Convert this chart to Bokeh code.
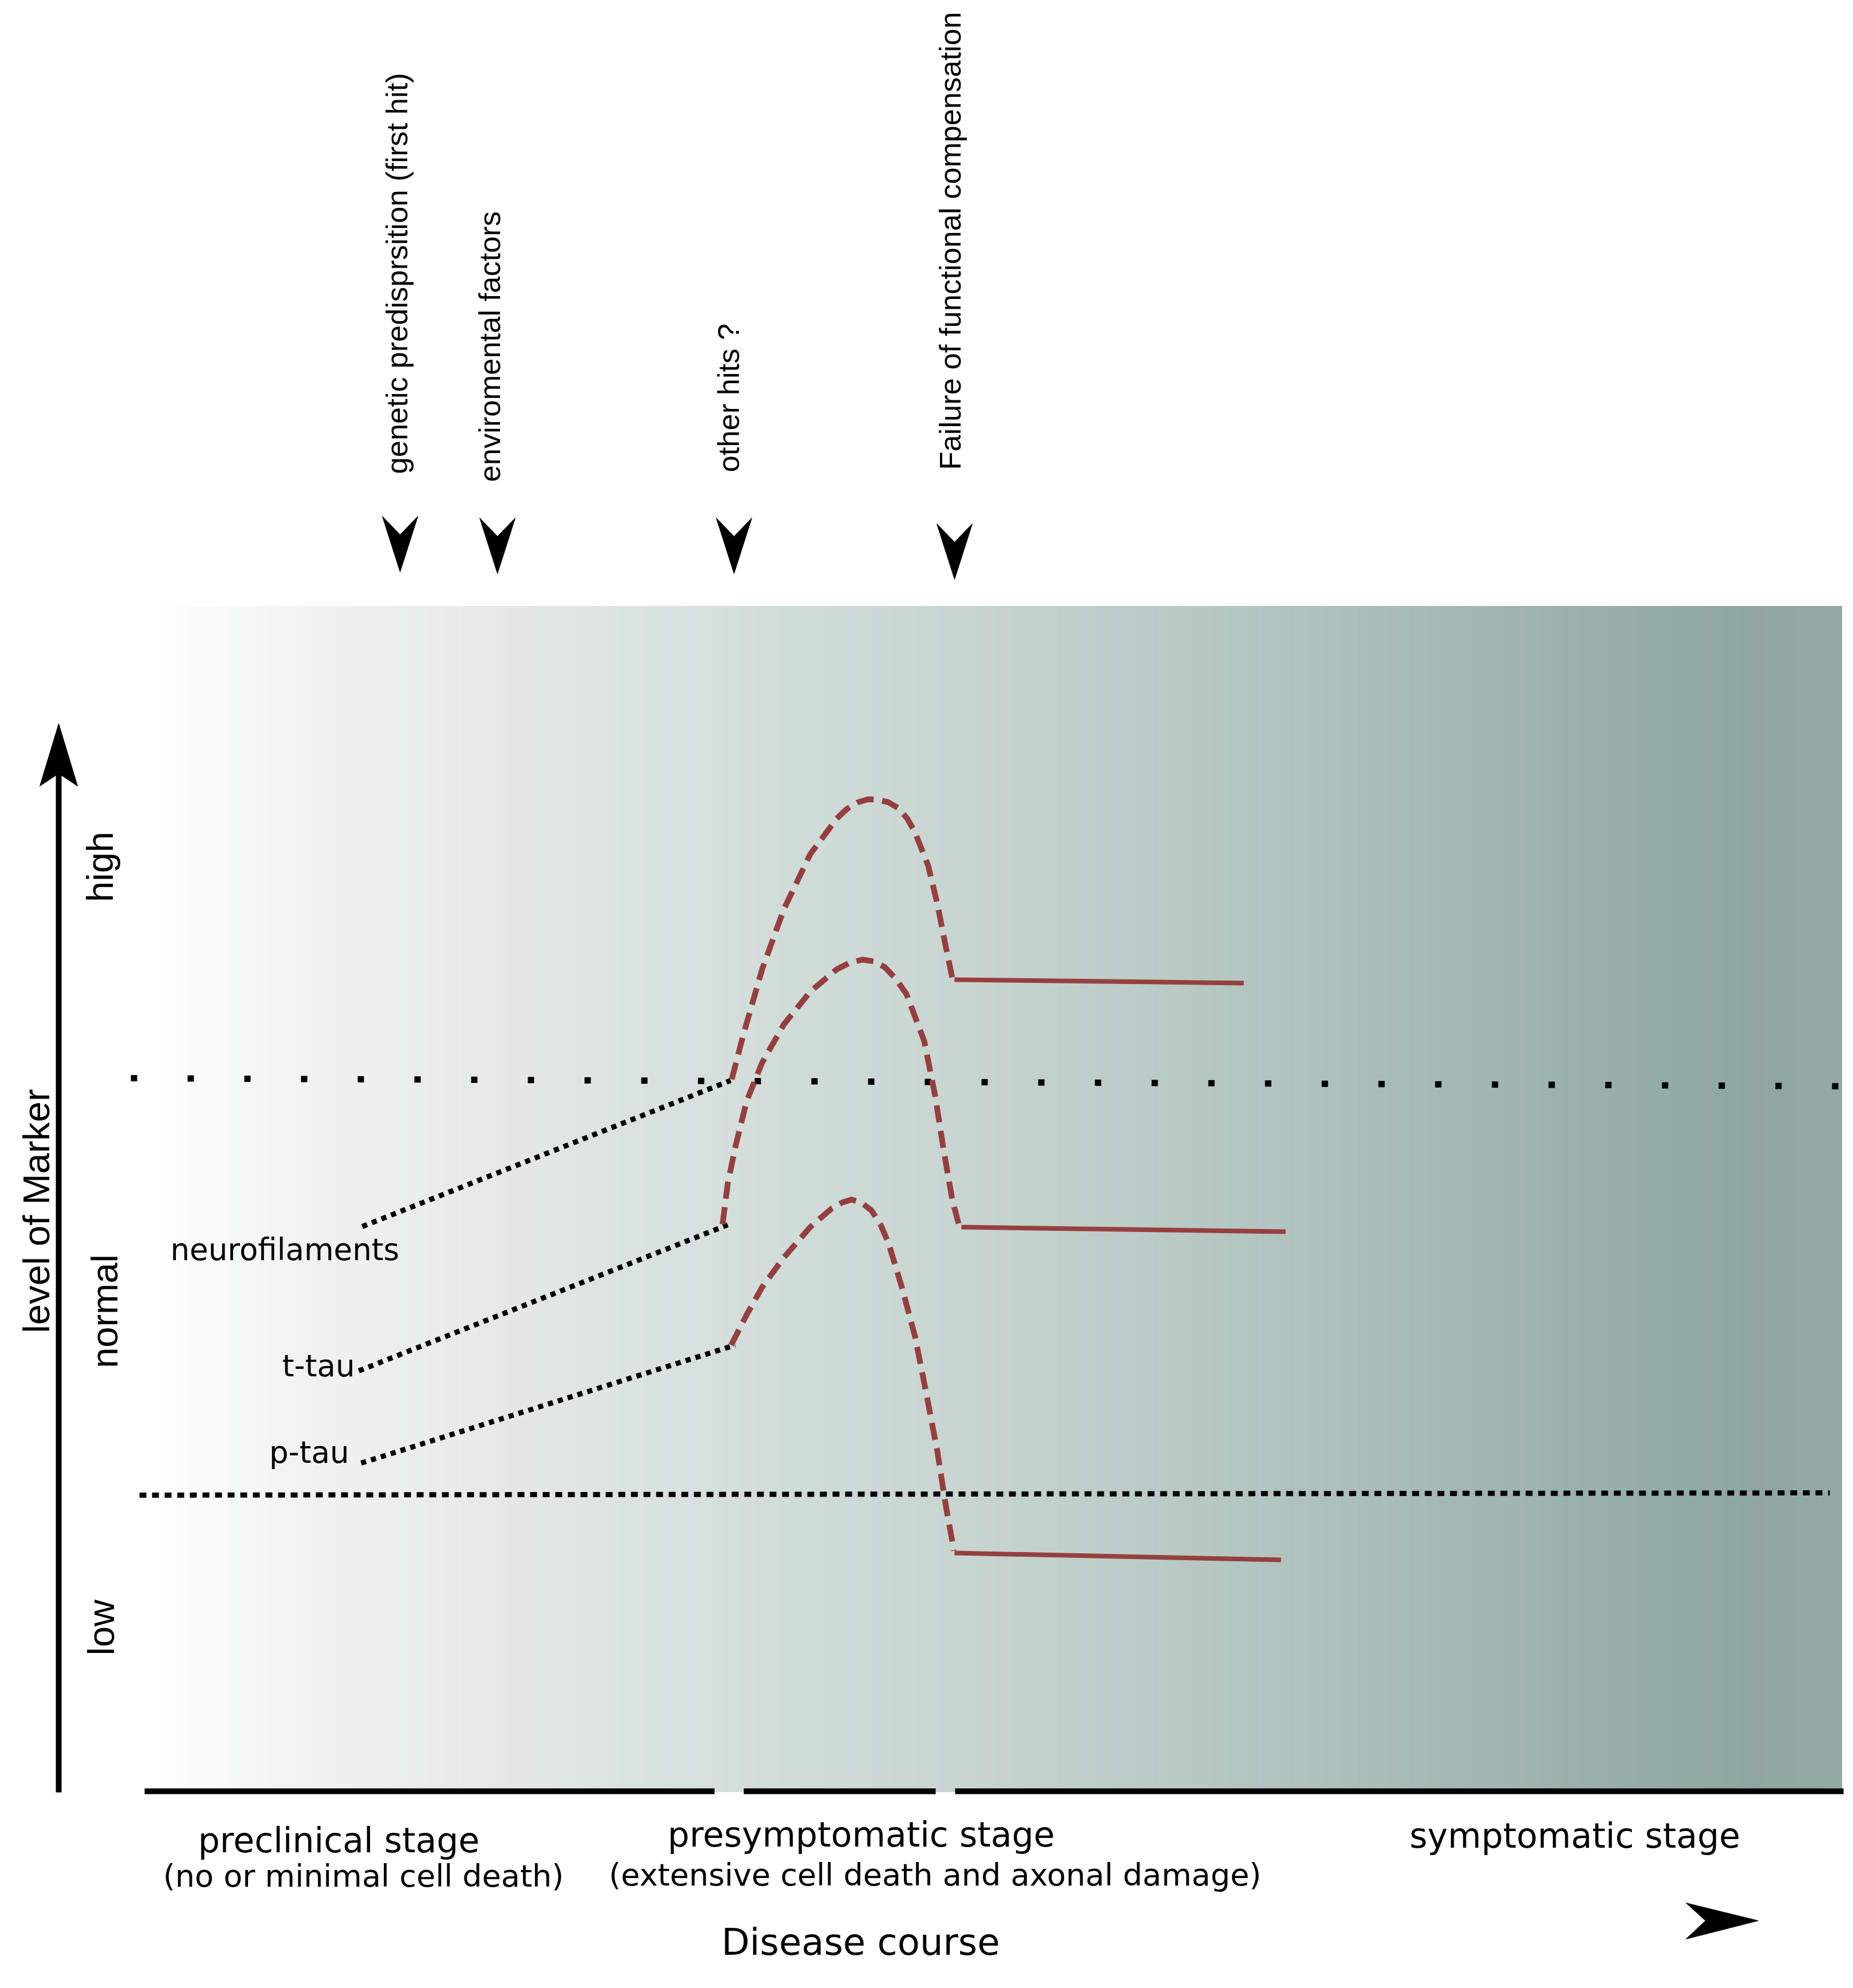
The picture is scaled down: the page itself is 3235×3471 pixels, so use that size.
import numpy as np
from bokeh.plotting import figure
from bokeh.models import Range1d
from bokeh.embed import file_html
from bokeh.resources import INLINE
from bokeh.core.properties import value

# ---------------- data (schematic coordinates, y grows downward) ----------------
stage_labels = ["preclinical stage", "presymptomatic stage", "symptomatic stage"]
stage_x = [591, 1503, 2749]
stage_y = [3212, 3202, 3204]

stage_notes = ["(no or minimal cell death)", "(extensive cell death and axonal damage)"]
note_x = [634, 1632]
note_y = [3275, 3273]

course_label = ["Disease course"]
course_x = [1502]
course_y = [3390]

hit_labels = ["genetic predisprsition (first hit)", "enviromental factors",
              "other hits ?", "Failure of functional compensation"]
hit_arrow_x = [698, 868, 1281, 1666]
hit_arrow_tip = [998, 1001, 1001, 1011]
hit_label_x = [692, 854, 1271, 1658]
hit_label_y = [827, 841, 824, 820]

axis_title = ["level of Marker"]
axis_title_x = [63]
axis_title_y = [2114]

level_labels = ["high", "normal", "low"]
level_label_x = [174, 182, 176]
level_label_y = [1513, 2289, 2841]

marker_labels = ["neurofilaments", "t-tau", "p-tau"]
marker_label_x = [297, 619, 609]
marker_label_y = [2181, 2384, 2535]
marker_label_align = ["left", "right", "right"]

# thresholds (upper = normal/high, lower = low/normal)
upper_x = [228, 3222]
upper_y = [1882, 1896]
lower_x = [243, 3194]
lower_y = [2610, 2606]

# preclinical (dotted) course of each marker
nf_pre_x = [632, 1275]
nf_pre_y = [2141, 1886]
tt_pre_x = [626, 1270]
tt_pre_y = [2393, 2138]
pt_pre_x = [630, 1283]
pt_pre_y = [2554, 2348]

# presymptomatic (dashed) course
nf_mid_x = [1277, 1297, 1330, 1368, 1414, 1460, 1478, 1498, 1515, 1532, 1550, 1567, 1583,
            1597, 1620, 1636, 1651, 1662]
nf_mid_y = [1884, 1807, 1692, 1587, 1491, 1429, 1412, 1400, 1395, 1396, 1400, 1410, 1428,
            1453, 1511, 1578, 1654, 1707]
tt_mid_x = [1261, 1270, 1284, 1303, 1330, 1368, 1414, 1460, 1482, 1505, 1525, 1544, 1563,
            1582, 1613, 1632, 1647, 1662, 1674]
tt_mid_y = [2137, 2066, 1999, 1922, 1855, 1788, 1731, 1692, 1681, 1675, 1678, 1688, 1708,
            1735, 1817, 1912, 2008, 2094, 2140]
pt_mid_x = [1276, 1303, 1330, 1368, 1414, 1452, 1470, 1486, 1503, 1521, 1537, 1551, 1574,
            1597, 1616, 1636, 1651, 1665]
pt_mid_y = [2348, 2295, 2247, 2195, 2142, 2109, 2099, 2094, 2099, 2113, 2138, 2171, 2247,
            2333, 2429, 2534, 2630, 2707]

# symptomatic (solid) course
nf_post_x = [1666, 2171]
nf_post_y = [1710, 1716]
tt_post_x = [1678, 2244]
tt_post_y = [2142, 2150]
pt_post_x = [1666, 2236]
pt_post_y = [2711, 2723]

# axes of the schematic
yaxis_x = [102, 102]
yaxis_y = [3129, 1300]
yaxis_tip = (102, 1263)
xaxis_segments = [(252, 1247), (1298, 1633), (1667, 3218)]
xaxis_y = 3127
course_arrow_tip = (3069, 3353)

# background gradient
panel_left, panel_right, panel_top, panel_bottom = 250, 3215, 1058, 3128
grad_stops_x = [250, 500, 900, 1300, 1700, 2100, 2500, 2900, 3050, 3215]
grad_stops_c = ["#ffffff", "#f2f4f3", "#e3e8e6", "#d3dedb", "#c7d4d0",
                "#b7c8c3", "#a6bab5", "#94aca6", "#8fa7a1", "#93aaa4"]

RED = "#963f3f"

# ---------------- figure ----------------
W, H = 3219, 3455
p = figure(width=W, height=H, x_range=Range1d(0, W), y_range=Range1d(H, 0),
           output_backend="svg", toolbar_location=None,
           x_axis_type=None, y_axis_type=None, min_border=0)
p.outline_line_color = None
p.background_fill_color = "white"
p.border_fill_color = "white"
p.xgrid.visible = False
p.ygrid.visible = False

# gradient strips
def hex2rgb(h):
    return np.array([int(h[i:i + 2], 16) for i in (1, 3, 5)], dtype=float)

edges = np.linspace(panel_left, panel_right, 300)
mids = 0.5 * (edges[:-1] + edges[1:])
rgb = np.array([hex2rgb(c) for c in grad_stops_c])
cols = []
for m in mids:
    r = np.interp(m, grad_stops_x, rgb[:, 0])
    g = np.interp(m, grad_stops_x, rgb[:, 1])
    b = np.interp(m, grad_stops_x, rgb[:, 2])
    cols.append("#%02x%02x%02x" % (int(round(r)), int(round(g)), int(round(b))))
p.quad(left=edges[:-1], right=edges[1:], top=panel_top, bottom=panel_bottom,
       fill_color=cols, line_color=cols, line_width=1)

# thresholds
p.line(upper_x, upper_y, line_color="black", line_width=11, line_dash="11 88")
p.line(lower_x, lower_y, line_color="black", line_width=9, line_dash="12 10")

# marker courses
for xs, ys in [(nf_pre_x, nf_pre_y), (tt_pre_x, tt_pre_y), (pt_pre_x, pt_pre_y)]:
    p.line(xs, ys, line_color="black", line_width=9, line_dash="9 9")
for xs, ys in [(nf_mid_x, nf_mid_y), (tt_mid_x, tt_mid_y), (pt_mid_x, pt_mid_y)]:
    p.line(xs, ys, line_color=RED, line_width=10, line_dash="30 15", line_join="round")
for xs, ys in [(nf_post_x, nf_post_y), (tt_post_x, tt_post_y), (pt_post_x, pt_post_y)]:
    p.line(xs, ys, line_color=RED, line_width=8)

# axes
p.line(yaxis_x, yaxis_y, line_color="black", line_width=10)
for a, b in xaxis_segments:
    p.line([a, b], [xaxis_y, xaxis_y], line_color="black", line_width=10)

# arrowheads
def down_arrow(x, tip, w=62, h=97, notch=32):
    return [x - w / 2, x, x + w / 2, x], [tip - h, tip - h + notch, tip - h, tip]

axs, ays = [], []
for x, t in zip(hit_arrow_x, hit_arrow_tip):
    a, b = down_arrow(x, t)
    axs.append(a)
    ays.append(b)
ux, uy = yaxis_tip
axs.append([ux - 33, ux, ux + 33, ux])
ays.append([uy + 109, uy + 87, uy + 109, uy])
rx, ry = course_arrow_tip
axs.append([rx - 126, rx - 92, rx - 126, rx])
ays.append([ry - 31, ry, ry + 32, ry])
p.patches(axs, ays, fill_color="black", line_color="black", line_width=1)

# texts
hfont = value("DejaVu Sans")
vfont = value("Liberation Sans")
p.text(stage_x, stage_y, text=stage_labels, text_font=hfont, text_font_size="60px",
       text_align="center", text_baseline="alphabetic", text_color="black")
p.text(note_x, note_y, text=stage_notes, text_font=hfont, text_font_size="54px",
       text_align="center", text_baseline="alphabetic", text_color="black")
p.text(course_x, course_y, text=course_label, text_font=hfont, text_font_size="64px",
       text_align="center", text_baseline="alphabetic", text_color="black")
for lab, x, y, al in zip(marker_labels, marker_label_x, marker_label_y, marker_label_align):
    p.text([x], [y], text=[lab], text_font=hfont, text_font_size="53px",
           text_align=al, text_baseline="alphabetic", text_color="black")
p.text(hit_label_x, hit_label_y, text=hit_labels, angle=np.pi / 2, text_font=vfont,
       text_font_size="52.5px", text_align="left", text_baseline="alphabetic", text_color="black")
p.text(axis_title_x, axis_title_y, text=axis_title, angle=np.pi / 2, text_font=vfont,
       text_font_size="65px", text_align="center", text_baseline="alphabetic", text_color="black")
p.text(level_label_x, level_label_y, text=level_labels, angle=np.pi / 2, text_font=vfont,
       text_font_size="65px", text_align="center", text_baseline="alphabetic", text_color="black")

open("out.html", "w").write(file_html(p, INLINE))
